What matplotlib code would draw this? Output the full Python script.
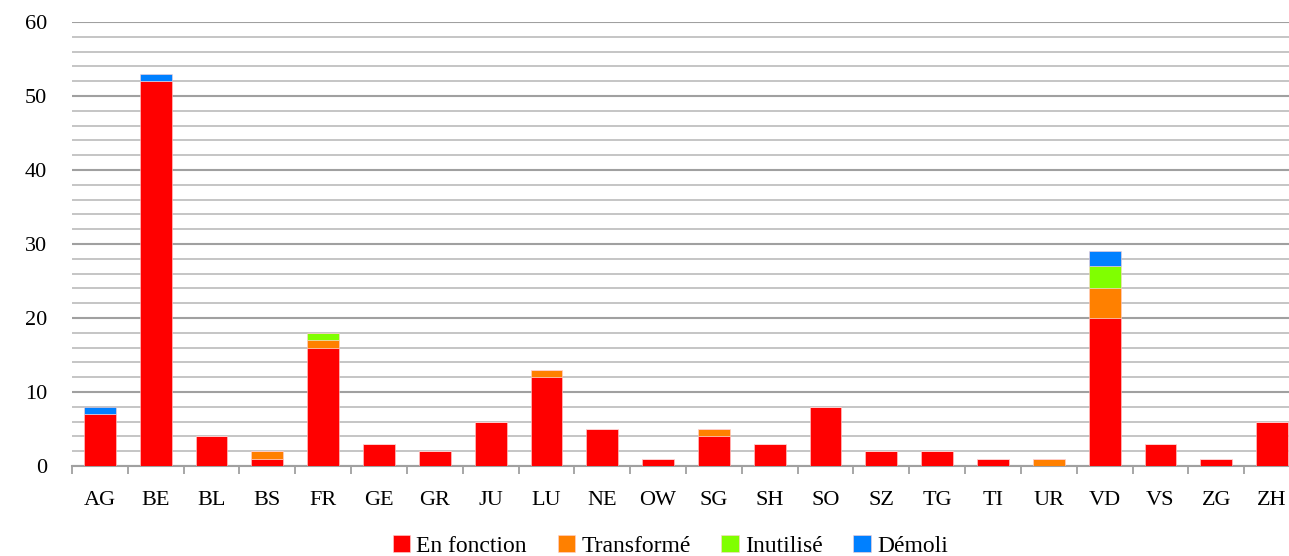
import numpy as np
import matplotlib.pyplot as plt
from matplotlib.ticker import MultipleLocator

cantons = ["AG", "BE", "BL", "BS", "FR", "GE", "GR", "JU", "LU", "NE", "OW",
           "SG", "SH", "SO", "SZ", "TG", "TI", "UR", "VD", "VS", "ZG", "ZH"]
en_fonction = [7, 52, 4, 1, 16, 3, 2, 6, 12, 5, 1, 4, 3, 8, 2, 2, 1, 0, 20, 3, 1, 6]
transforme = [0, 0, 0, 1, 1, 0, 0, 0, 1, 0, 0, 1, 0, 0, 0, 0, 0, 1, 4, 0, 0, 0]
inutilise = [0, 0, 0, 0, 1, 0, 0, 0, 0, 0, 0, 0, 0, 0, 0, 0, 0, 0, 3, 0, 0, 0]
demoli = [1, 1, 0, 0, 0, 0, 0, 0, 0, 0, 0, 0, 0, 0, 0, 0, 0, 0, 2, 0, 0, 0]

series = [("En fonction", en_fonction, "#ff0000"),
          ("Transformé", transforme, "#ff8000"),
          ("Inutilisé", inutilise, "#80ff00"),
          ("Démoli", demoli, "#0080ff")]

plt.rcParams['font.family'] = ['Liberation Serif', 'DejaVu Serif']

fig = plt.figure(figsize=(12.89, 5.56), dpi=100)
ax = fig.add_axes([72 / 1289, 1 - 466 / 556, 1228 / 1289, 444 / 556])

x = np.arange(len(cantons))
bottom = np.zeros(len(cantons))
for name, vals, col in series:
    vals = np.array(vals, dtype=float)
    ax.bar(x, vals, 0.57, bottom=bottom, color=col, label=name,
           edgecolor="#ffd0d0", linewidth=0.4, zorder=3)
    bottom += vals

ax.set_xlim(-0.5, len(cantons) - 0.5)
ax.set_ylim(0, 60)
ax.yaxis.set_major_locator(MultipleLocator(10))
ax.yaxis.set_minor_locator(MultipleLocator(2))
ax.grid(which="minor", axis="y", color="#c0c0c0", linewidth=1.3, zorder=0)
ax.grid(which="major", axis="y", color="#a0a0a0", linewidth=1.5, zorder=1)

ax.set_xticks(x)
ax.set_xticklabels(cantons)
ax.set_xticks(np.arange(-0.5, len(cantons), 1), minor=True)
ax.tick_params(axis="x", which="major", length=0, pad=18, labelsize=16)
ax.tick_params(axis="x", which="minor", length=6, width=1.3, color="#a0a0a0")
ax.tick_params(axis="y", which="both", length=0, labelsize=16, pad=18)

for s in ["top", "right", "left"]:
    ax.spines[s].set_visible(False)
ax.spines["bottom"].set_color("#a0a0a0")
ax.spines["bottom"].set_linewidth(1.5)

fig.legend(loc="center", bbox_to_anchor=(0.52, 0.018), ncol=4, frameon=False,
           fontsize=17, handlelength=0.75, handleheight=0.75, handletextpad=0.25,
           columnspacing=1.3)

fig.savefig("out.png", dpi=100)
